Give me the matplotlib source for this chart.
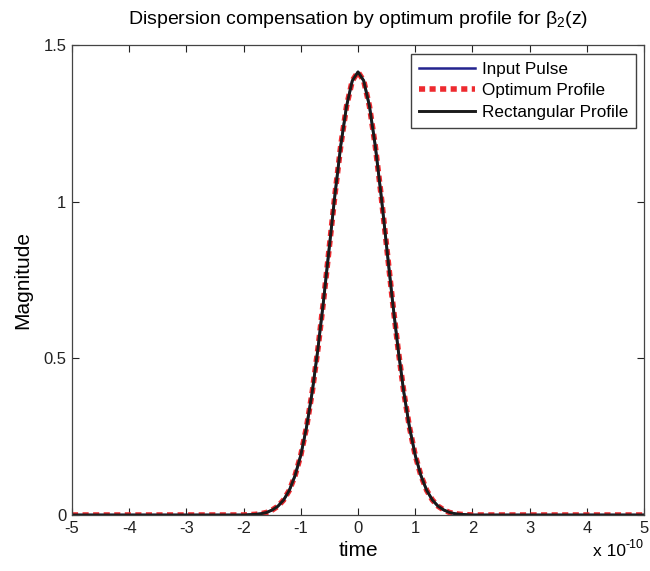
import matplotlib
matplotlib.use("Agg")
import matplotlib.pyplot as plt

plt.rcParams['font.family'] = ['Liberation Sans', 'DejaVu Sans']

# time axis in units of 1e-10 s
time = [-5.0, -2.0, -1.9, -1.8, -1.7, -1.6, -1.5, -1.4, -1.3, -1.2, -1.1,
        -1.0, -0.9, -0.8, -0.7, -0.6, -0.5, -0.4, -0.3, -0.2, -0.1, 0.0,
        0.1, 0.2, 0.3, 0.4, 0.5, 0.6, 0.7, 0.8, 0.9, 1.0, 1.1, 1.2, 1.3,
        1.4, 1.5, 1.6, 1.7, 1.8, 1.9, 2.0, 5.0]

input_pulse = [0.0, 0.0, 0.001, 0.002, 0.004, 0.008, 0.016, 0.028, 0.048,
               0.079, 0.126, 0.191, 0.280, 0.393, 0.531, 0.688, 0.858,
               1.027, 1.181, 1.305, 1.386, 1.414, 1.386, 1.305, 1.181,
               1.027, 0.858, 0.688, 0.531, 0.393, 0.280, 0.191, 0.126,
               0.079, 0.048, 0.028, 0.016, 0.008, 0.004, 0.002, 0.001,
               0.0, 0.0]
optimum_profile = list(input_pulse)
rectangular_profile = list(input_pulse)

x_ticks = [-5, -4, -3, -2, -1, 0, 1, 2, 3, 4, 5]
y_ticks = [0, 0.5, 1, 1.5]
y_tick_labels = ['0', '0.5', '1', '1.5']

fig = plt.figure(figsize=(6.5, 5.71), dpi=100)
ax = fig.add_axes([72 / 650, 56 / 571, 572 / 650, 470 / 571])

ax.plot(time, input_pulse, color='#23238e', lw=1.8, label='Input Pulse')
ax.plot(time, optimum_profile, color='#ee2a2f', lw=4.0,
        dashes=(1.1, 0.8), dash_capstyle='butt', label='Optimum Profile')
ax.plot(time, rectangular_profile, color='#1a1a1a', lw=2.1,
        label='Rectangular Profile')

ax.set_xlim(-5, 5)
ax.set_ylim(0, 1.5)
ax.set_xticks(x_ticks)
ax.set_xticklabels([str(t) for t in x_ticks])
ax.set_yticks(y_ticks)
ax.set_yticklabels(y_tick_labels)
ax.tick_params(direction='in', length=5, width=0.8, top=True, right=True,
               labelsize=12, pad=4, colors='#222222')
for s in ax.spines.values():
    s.set_linewidth(0.9)
    s.set_color('#444444')

ax.set_xlabel('time', fontsize=15, labelpad=4)
ax.set_ylabel('Magnitude', fontsize=15, labelpad=8)
ax.set_title(r'Dispersion compensation by optimum profile for $\mathregular{\beta_2}$(z)',
             fontsize=14, pad=15)

# exponent of the time axis
fig.text(626 / 650, 1 - 552 / 571, 'x 10', ha='right', va='center',
         fontsize=12.5)
fig.text(626 / 650, 1 - 545 / 571, '-10', ha='left', va='center',
         fontsize=9)

leg = ax.legend(loc='upper right', bbox_to_anchor=(0.986, 0.981),
                borderaxespad=0, fontsize=12.3, handlelength=3.3,
                handletextpad=0.4, labelspacing=0.4, fancybox=False,
                frameon=True, borderpad=0.45)
leg.get_frame().set_edgecolor('#111111')
leg.get_frame().set_linewidth(1.0)

fig.savefig('out.png', dpi=100)
